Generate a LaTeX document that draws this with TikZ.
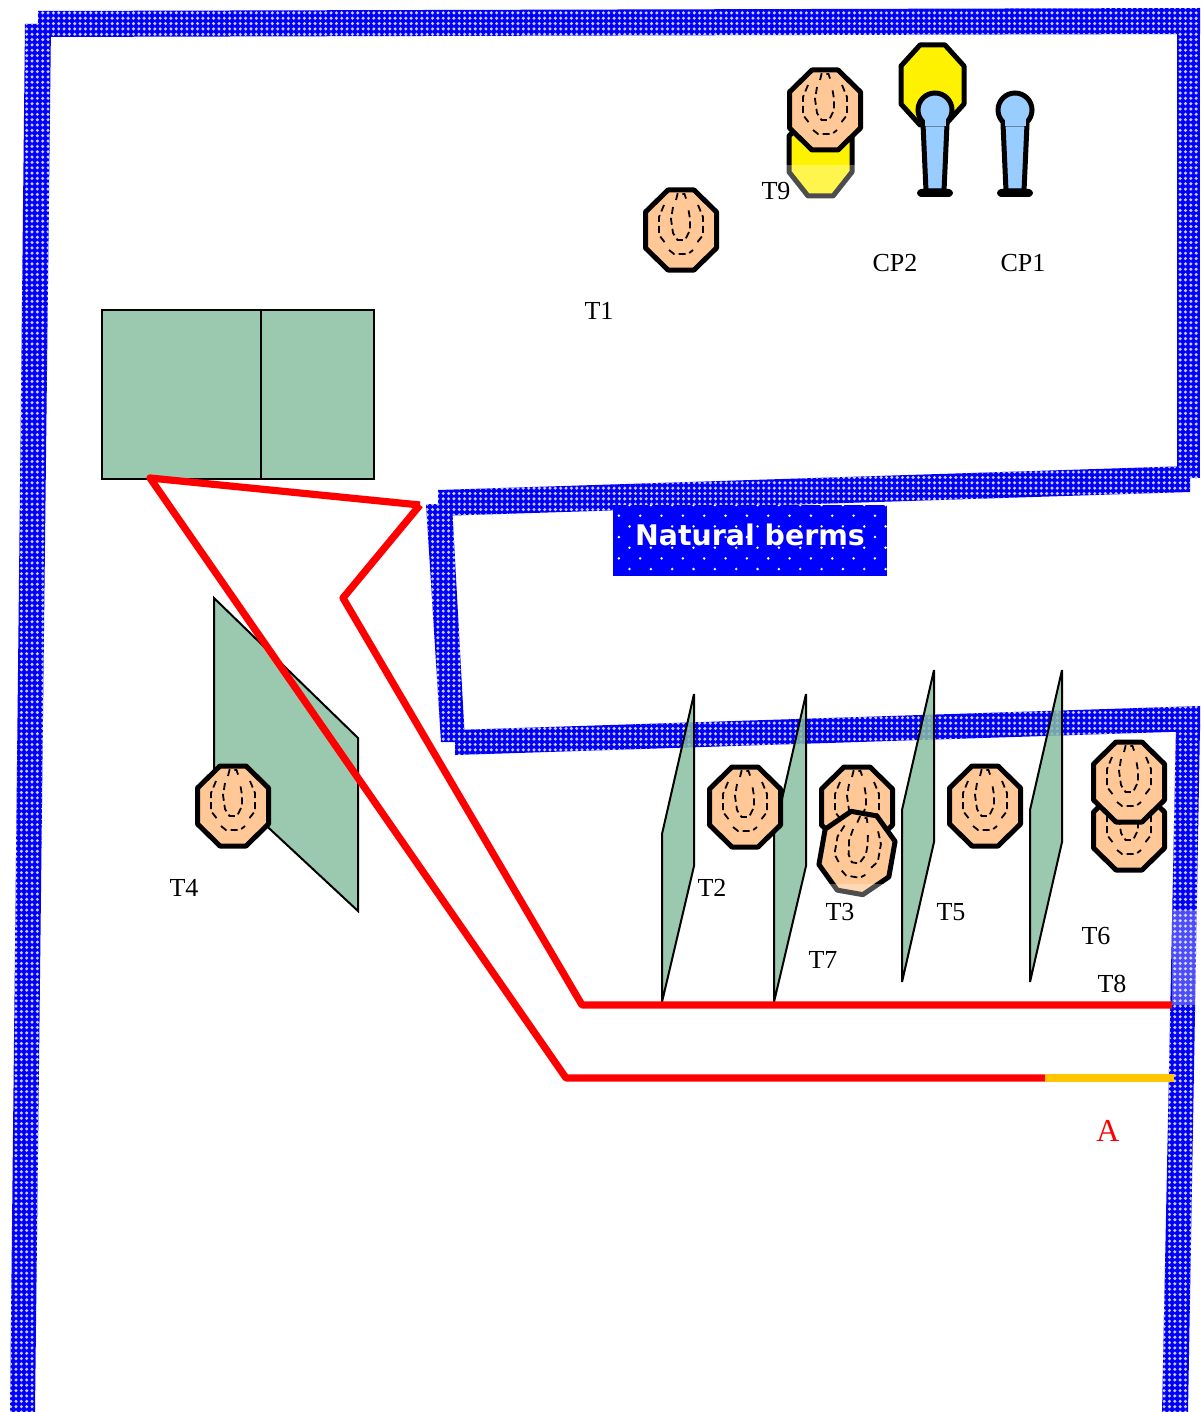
\documentclass[tikz,border=0pt]{standalone}
\usepackage{fontspec}
\setmainfont{Liberation Serif}
\newfontfamily\bermfont{DejaVu Sans}
\usetikzlibrary{patterns,positioning}
\pgfdeclarepatternformonly{walldots}{\pgfqpoint{-1pt}{-1pt}}{\pgfqpoint{1pt}{1pt}}{\pgfqpoint{2.67pt}{2.67pt}}{
	\pgfpathcircle{\pgfqpoint{0pt}{0pt}}{0.85pt}
	\pgfusepath{fill}
}
\pgfdeclarepatternformonly{bermdots}{\pgfqpoint{-1pt}{-1pt}}{\pgfqpoint{10pt}{10pt}}{\pgfqpoint{10.67pt}{10.67pt}}{
	\pgfpathcircle{\pgfqpoint{0pt}{0pt}}{0.7pt}
	\pgfpathcircle{\pgfqpoint{5.33pt}{5.33pt}}{0.7pt}
	\pgfusepath{fill}
}
\definecolor{wallblue}{RGB}{0,0,250}
\definecolor{berm}{RGB}{155,201,176}
\definecolor{fencegreen}{RGB}{137,192,162}
\definecolor{nutskin}{RGB}{255,200,150}
\definecolor{post}{RGB}{153,204,255}
\definecolor{stripe}{RGB}{255,198,0}
\tikzset{
	wall/.style={fill=wallblue,postaction={pattern=walldots,pattern color=white!80!wallblue}},
	block/.style={draw,line width=1pt,fill=berm},
	fence/.style={draw,line width=1pt,fill=fencegreen,fill opacity=.85,line join=bevel},
	route/.style={draw=red,line width=3.6pt},
	tag/.style={font=\fontsize{13}{15}\selectfont,inner sep=0pt},
	haze/.style={fill=white,fill opacity=.3},
	lamp/.style={draw,line width=2.5pt,fill=yellow,line join=round},
	nutdash/.style={line width=.9pt,dash pattern=on 3.5pt off 2pt},
	pics/nut/.style={code={
		\draw[line width=2.5pt,fill=nutskin,line join=round] (-13,-40) -- (13,-40) -- (35.5,-18) -- (35.5,18) -- (13,40) -- (-13,40) -- (-35.5,18) -- (-35.5,-18) -- cycle;
		\draw[nutdash] (-5,-30) -- (-3.5,-36) -- (3.5,-36) -- (5.5,-30);
		\draw[nutdash] (-8,-23) -- (-10,-11) -- (-8,3) -- (-3.5,10) -- (4,10) -- (9,0) -- (9,-11) -- (7,-23);
		\draw[nutdash] (-17,-25) -- (-22,-13) -- (-22,5) -- (-15,14);
		\draw[nutdash] (17,-25) -- (22,-13) -- (22,5) -- (15,14);
		\draw[nutdash] (-12,20) -- (-7,24) -- (7,24) -- (12,20);
	}},
	pics/mike/.style={code={
		\draw[line width=2.5pt,fill=post] (0,0) circle[radius=17];
		\draw[line width=2.5pt,fill=post,line join=round] (-12,14) -- (-9,81) -- (9,81) -- (12,14) -- cycle;
		\draw[line width=2pt,fill=post,rounded corners=1.2pt,line join=round] (-16,81) rectangle (16,85);
		\fill[post] (-10.5,4) rectangle (10.5,16);
	}}
}
\begin{document}
\begin{tikzpicture}[x=.5pt,y=-.5pt]
	\useasboundingbox (0,0) rectangle (1200,1412);

	% walls
	\path[wall] (25,24) -- (51,24) -- (35,1412) -- (10,1412) -- cycle;
	\path[wall] (38,11) -- (1200,8) -- (1200,34) -- (38,37) -- cycle;
	\path[wall] (1177,20) -- (1200,20) -- (1200,478) -- (1177,478) -- cycle;
	\path[wall] (438,490) -- (1190,466) -- (1190,492) -- (438,516) -- cycle;
	\path[wall] (426,504) -- (452,504) -- (465,742) -- (441,742) -- cycle;
	\path[wall] (455,730) -- (1200,706) -- (1200,731) -- (455,755) -- cycle;
	\path[wall] (1176,725) -- (1200,725) -- (1188,1412) -- (1162,1412) -- cycle;
	\fill[haze] (1172,910) rectangle (1199,1005);

	\node[fill=blue,postaction={pattern=bermdots,pattern color=white},minimum width=137pt,minimum height=35.5pt,inner sep=0pt] (bermsign) at (750,540.5) {\raisebox{6pt}{\bermfont\bfseries\fontsize{14.2}{17}\selectfont\color{white}Natural berms}};

	% blocks
	\path[block] (102,310) rectangle (261,479);
	\path[block] (261,310) rectangle (374,479);
	\path[block] (214,598) -- (358,738) -- (358,911) -- (214,777) -- cycle;

	% fences
	\path[fence] (694,694) -- (694,866) -- (662,1002) -- (662,834) -- cycle;
	\path[fence] (806,694) -- (806,866) -- (774,1002) -- (774,834) -- cycle;
	\path[fence] (934,670) -- (934,842) -- (902,982) -- (902,810) -- cycle;
	\path[fence] (1062,670) -- (1062,842) -- (1030,982) -- (1030,810) -- cycle;

	% lamps
	\draw[lamp] (808,117) -- (833,117) -- (852,136) -- (852,172) -- (833,196) -- (808,196) -- (789,172) -- (789,136) -- cycle;
	\fill[haze] (785,165) rectangle (856,199);
	\draw[lamp] (920,45) -- (945,45) -- (964,66) -- (964,104) -- (945,125) -- (920,125) -- (901,104) -- (901,66) -- cycle;

	% nuts
	\pic (nuta) at (681,230) {nut};
	\pic (nutb) at (825,110) {nut};
	\pic (nutc) at (233,806) {nut};
	\pic (nutd) at (745,807) {nut};
	\pic (nute) at (857,807) {nut};
	\pic[rotate=-10] (nutf) at (857,853) {nut};
	\fill[haze] (820,884) rectangle (892,899);
	\pic (nutg) at (985,806) {nut};
	\pic (nuth) at (1129,830) {nut};
	\pic (nuti) at (1129,782) {nut};

	\pic (mikea) at (935,110) {mike};
	\pic (mikeb) at (1015,110) {mike};

	% routes
	\node[coordinate] (apex) at (150,478) {};
	\node[coordinate] (north) at (420,505) {};
	\node[coordinate] (kink) at (343,598) {};
	\node[coordinate] (inner) at (582,1005) {};
	\node[coordinate] (innerend) at (1172,1005) {};
	\node[coordinate] (outer) at (566,1078) {};
	\node[coordinate] (split) at (1045,1078) {};
	\node[coordinate] (outerend) at (1174,1078) {};
	\draw[route,line join=round] (north) -- (apex) -- (outer) -- (split);
	\draw[route,line join=round] (north) -- (kink) -- (inner) -- (innerend);
	\draw[route,draw=stripe] (split) -- (outerend);

	% labels
	\node[tag] (tone) at (599,311) {T1};
	\node[tag] (ttwo) at (712,888) {T2};
	\node[tag] (tthree) at (840,912) {T3};
	\node[tag] (tfour) at (184,888) {T4};
	\node[tag] (tfive) at (951,912) {T5};
	\node[tag] (tsix) at (1096,936) {T6};
	\node[tag] (tseven) at (823,960) {T7};
	\node[tag] (teight) at (1112,984) {T8};
	\node[tag] (tnine) at (776,191) {T9};
	\node[tag] (cptwo) at (895,263) {CP2};
	\node[tag] (cpone) at (1023,263) {CP1};
	\node[tag,text=red,font=\fontsize{16}{18}\selectfont] (alabel) at (1108,1131) {A};
\end{tikzpicture}
\end{document}
